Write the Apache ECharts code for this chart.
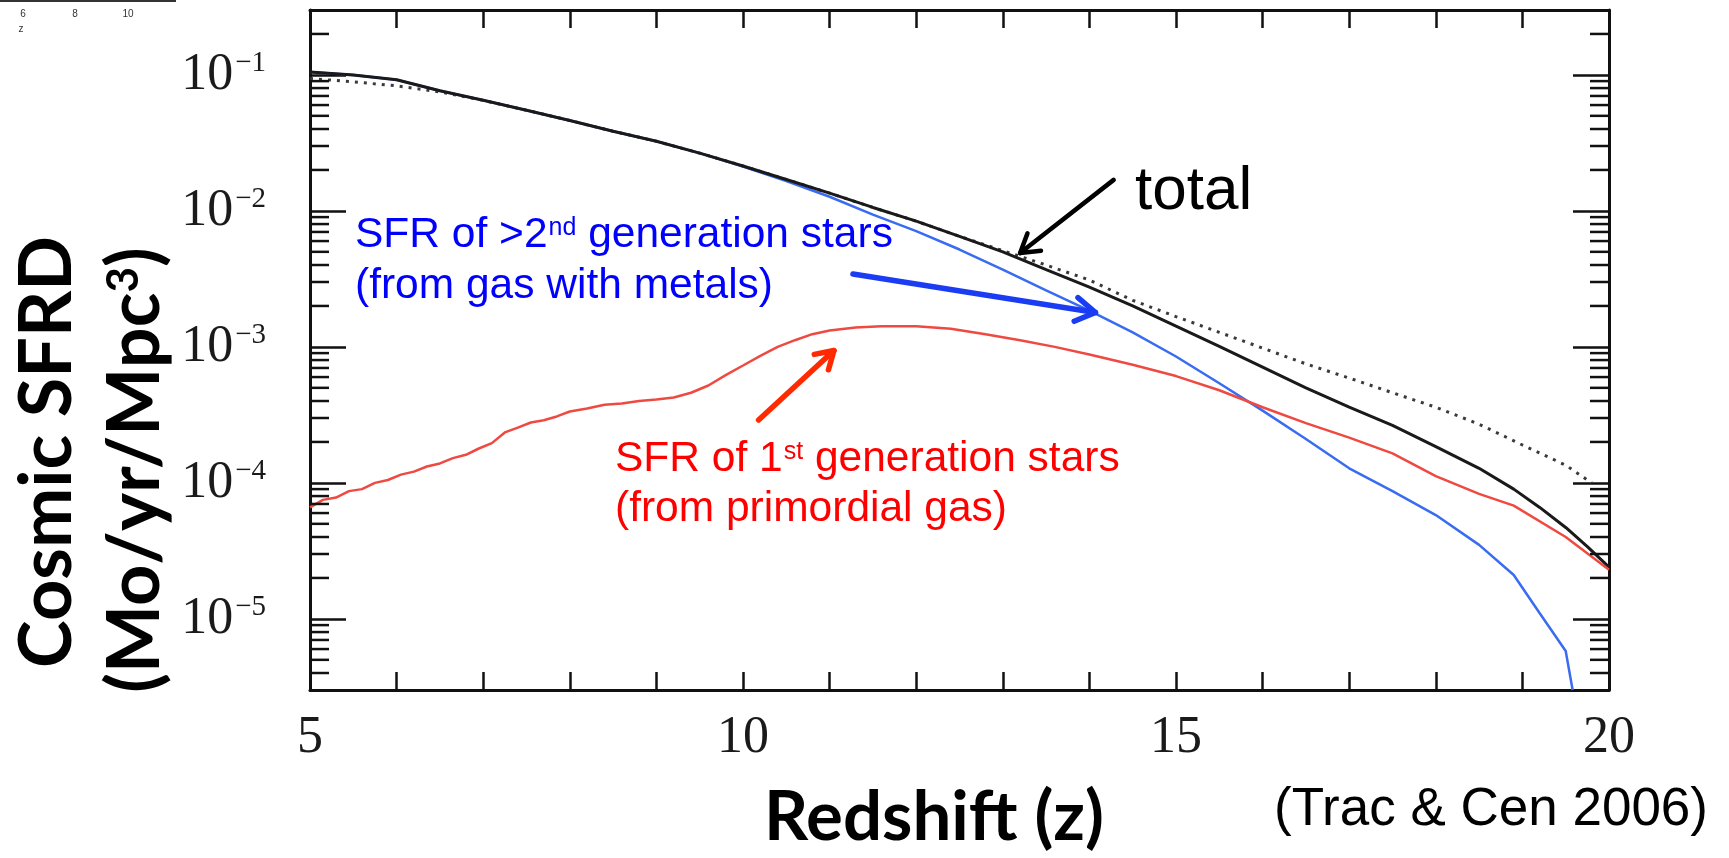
<!DOCTYPE html>
<html>
<head>
<meta charset="utf-8">
<script src="https://cdn.jsdelivr.net/npm/echarts@6/dist/echarts.min.js"></script>
<style>
  html, body { margin: 0; padding: 0; background: #ffffff; }
  #chart { width: 1729px; height: 858px; }
</style>
</head>
<body>
<div id="chart"></div>
<script>
// Cosmic star formation rate density vs redshift (Trac & Cen 2006)

// total SFRD (solid black)
const zTotal   = [5.0, 5.5, 6.0, 6.5, 7.0, 7.5, 8.0, 8.5, 9.0, 9.5, 10.0, 10.5, 11.0, 11.5, 12.0, 12.5, 13.0, 13.5, 14.0, 14.5, 15.0, 15.5, 16.0, 16.5, 17.0, 17.5, 18.0, 18.5, 18.9, 19.2, 19.5, 19.75, 20.0];
const sfrTotal = [0.105, 0.100, 0.092, 0.0765, 0.065, 0.055, 0.0462, 0.0385, 0.0325, 0.0266, 0.0214, 0.0170, 0.0135, 0.0106, 0.0084, 0.0065, 0.0050, 0.0037, 0.00275, 0.0020, 0.00142, 0.00101, 0.00071, 0.00050, 0.00036, 0.000265, 0.000185, 0.000128, 0.000090, 0.000066, 0.000047, 0.000034, 0.000024];

// dotted reference curve
const zFit   = [5.0, 5.5, 6.0, 6.5, 7.0, 7.5, 8.0, 8.5, 9.0, 9.5, 10.0, 10.5, 11.0, 11.5, 12.0, 12.5, 13.0, 13.5, 14.0, 14.5, 15.0, 15.5, 16.0, 16.5, 17.0, 17.5, 18.0, 18.5, 19.0, 19.5, 19.8];
const sfrFit = [0.094, 0.089, 0.083, 0.075, 0.065, 0.055, 0.0462, 0.0385, 0.0325, 0.0266, 0.0214, 0.0170, 0.0135, 0.0106, 0.0084, 0.0065, 0.0051, 0.0040, 0.0031, 0.0022, 0.00167, 0.00128, 0.00098, 0.00075, 0.00059, 0.00046, 0.00036, 0.00027, 0.00019, 0.000135, 0.000100];

// stars formed from metal-enriched gas (blue)
const zPop2   = [5.0, 5.5, 6.0, 6.5, 7.0, 7.5, 8.0, 8.5, 9.0, 9.5, 10.0, 10.5, 11.0, 11.5, 12.0, 12.5, 13.0, 13.5, 14.0, 14.5, 15.0, 15.5, 16.0, 16.5, 17.0, 17.5, 18.0, 18.5, 18.9, 19.2, 19.5, 19.58];
const sfrPop2 = [0.105, 0.100, 0.092, 0.0765, 0.065, 0.055, 0.0462, 0.0385, 0.0325, 0.0266, 0.0212, 0.0166, 0.0127, 0.0094, 0.0071, 0.0052, 0.0037, 0.0026, 0.00185, 0.00128, 0.00085, 0.00054, 0.00034, 0.00021, 0.000128, 0.000087, 0.000058, 0.000035, 0.000021, 0.000011, 0.0000058, 0.000003];

// stars formed from primordial gas (red)
const zPop3   = [5.0, 5.15, 5.3, 5.45, 5.6, 5.75, 5.9, 6.05, 6.2, 6.35, 6.5, 6.65, 6.8, 6.95, 7.1, 7.25, 7.4, 7.55, 7.7, 7.85, 8.0, 8.2, 8.4, 8.6, 8.8, 9.0, 9.2, 9.4, 9.6, 9.8, 10.0, 10.2, 10.4, 10.6, 10.8, 11.0, 11.3, 11.6, 12.0, 12.4, 12.8, 13.2, 13.6, 14.0, 14.5, 15.0, 15.5, 16.0, 16.5, 17.0, 17.5, 18.0, 18.5, 18.9, 19.5, 20.0];
const sfrPop3 = [6.6e-5, 7.5e-5, 7.8e-5, 8.7e-5, 9.0e-5, 1.0e-4, 1.05e-4, 1.15e-4, 1.21e-4, 1.32e-4, 1.39e-4, 1.52e-4, 1.61e-4, 1.79e-4, 1.96e-4, 2.35e-4, 2.55e-4, 2.78e-4, 2.89e-4, 3.08e-4, 3.35e-4, 3.52e-4, 3.76e-4, 3.84e-4, 4.0e-4, 4.1e-4, 4.25e-4, 4.6e-4, 5.2e-4, 6.2e-4, 7.3e-4, 8.6e-4, 1.00e-3, 1.12e-3, 1.24e-3, 1.32e-3, 1.39e-3, 1.42e-3, 1.42e-3, 1.36e-3, 1.24e-3, 1.12e-3, 1.00e-3, 8.8e-4, 7.4e-4, 6.1e-4, 4.8e-4, 3.6e-4, 2.75e-4, 2.15e-4, 1.65e-4, 1.12e-4, 8.3e-5, 6.8e-5, 4.0e-5, 2.3e-5];

// axis ranges and tick labels
const zRange = [5, 20];
const sfrRange = [3e-6, 0.3];
const zLabels = [5, 10, 15, 20];

// callout arrows, in (z, SFRD) coordinates
const arrowTotal = { tail: [14.28, 0.0169], tip: [13.2, 0.0049] };
const arrowPop2  = { tail: [11.27, 0.00344], tip: [14.07, 0.00179] };
const arrowPop3  = { tail: [10.18, 0.00029], tip: [11.05, 0.00094] };

const pairs = (xs, ys) => xs.map((x, i) => [x, ys[i]]);

// logarithmic minor ticks (2..9 x 10^n) inside the range
const minorTicks = [];
for (let n = -6; n <= -1; n++) {
  for (let k = 2; k <= 9; k++) {
    const v = Number((k * Math.pow(10, n)).toPrecision(3));
    if (v > sfrRange[0] && v < sfrRange[1]) minorTicks.push([zRange[0], v]);
  }
}

const serif = 'Liberation Serif, DejaVu Serif, serif';
const sans = 'Liberation Sans, Arial, sans-serif';
const bold = 'Lato, Open Sans, sans-serif';
const frame = '#111111';

const chart = echarts.init(document.getElementById('chart'), null, { renderer: 'canvas' });

const xBase = {
  type: 'value', min: zRange[0], max: zRange[1], interval: 1,
  axisLine: { show: true, onZero: false, lineStyle: { color: frame, width: 3 } },
  axisTick: { show: true, inside: true, length: 18, lineStyle: { color: frame, width: 2.5 } },
  splitLine: { show: false }
};
const yBase = {
  type: 'log', logBase: 10, min: sfrRange[0], max: sfrRange[1],
  axisLine: { show: true, onZero: false, lineStyle: { color: frame, width: 3 } },
  axisTick: { show: true, inside: true, length: 36, lineStyle: { color: frame, width: 2.5 } },
  splitLine: { show: false }
};

chart.setOption({
  animation: false,
  backgroundColor: '#ffffff',
  grid: { left: 310, right: 120, top: 10, bottom: 168, outerBoundsMode: 'none', containLabel: false },
  xAxis: [
    Object.assign({}, xBase, {
      position: 'bottom',
      axisLabel: {
        show: true, margin: 22, color: '#1a1a1a', fontFamily: serif, fontSize: 52,
        formatter: v => (zLabels.indexOf(v) >= 0 ? String(v) : '')
      }
    }),
    Object.assign({}, xBase, { position: 'top', axisLabel: { show: false } })
  ],
  yAxis: [
    Object.assign({}, yBase, {
      position: 'left',
      axisLabel: {
        show: true, margin: 44, showMinLabel: false, showMaxLabel: false,
        formatter: v => {
          const e = Math.log10(v);
          const r = Math.round(e);
          if (Math.abs(e - r) > 1e-6) return '';
          return '{b|10}{s|\u2212' + (-r) + '}';
        },
        rich: {
          b: { fontFamily: serif, fontSize: 52, color: '#1a1a1a', lineHeight: 52 },
          s: { fontFamily: serif, fontSize: 29, color: '#1a1a1a', verticalAlign: 'top', lineHeight: 30, padding: [0, 0, 0, 2] }
        }
      }
    }),
    Object.assign({}, yBase, { position: 'right', axisLabel: { show: false } })
  ],
  series: [
    {
      name: 'minor ticks', type: 'custom', silent: true, clip: false,
      xAxisIndex: 0, yAxisIndex: 0,
      encode: { x: 0, y: 1 },
      data: minorTicks,
      renderItem: (params, api) => {
        const v = api.value(1);
        const l = api.coord([zRange[0], v]);
        const r = api.coord([zRange[1], v]);
        const st = { stroke: frame, lineWidth: 2.5 };
        return {
          type: 'group',
          children: [
            { type: 'line', shape: { x1: l[0], y1: l[1], x2: l[0] + 19, y2: l[1] }, style: st },
            { type: 'line', shape: { x1: r[0] - 19, y1: r[1], x2: r[0], y2: r[1] }, style: st }
          ]
        };
      },
      z: 5
    },
    {
      name: 'fit', type: 'line', data: pairs(zFit, sfrFit), showSymbol: false, smooth: false,
      lineStyle: { color: '#3a3a3a', width: 3, type: [3, 6] }, z: 2
    },
    {
      name: 'Pop II', type: 'line', data: pairs(zPop2, sfrPop2), showSymbol: false, smooth: false,
      lineStyle: { color: '#3a6cf2', width: 2.5 }, z: 3
    },
    {
      name: 'total', type: 'line', data: pairs(zTotal, sfrTotal), showSymbol: false, smooth: false,
      lineStyle: { color: '#1a1a1a', width: 3 }, z: 4
    },
    {
      name: 'Pop III', type: 'line', data: pairs(zPop3, sfrPop3), showSymbol: false, smooth: false,
      lineStyle: { color: '#ee4a42', width: 2.5 }, z: 4
    }
  ]
});

function arrow(spec, color, width, head) {
  const a = chart.convertToPixel({ gridIndex: 0 }, spec.tail);
  const b = chart.convertToPixel({ gridIndex: 0 }, spec.tip);
  const ang = Math.atan2(b[1] - a[1], b[0] - a[0]);
  const h1 = [b[0] - head * Math.cos(ang - 0.55), b[1] - head * Math.sin(ang - 0.55)];
  const h2 = [b[0] - head * Math.cos(ang + 0.55), b[1] - head * Math.sin(ang + 0.55)];
  const st = { stroke: color, lineWidth: width, lineCap: 'round', lineJoin: 'round', fill: null };
  return [
    { type: 'polyline', shape: { points: [a, b] }, style: st, z: 100 },
    { type: 'polyline', shape: { points: [h1, b, h2] }, style: st, z: 100 }
  ];
}

const texts = [
  // y-axis title
  { type: 'text', x: 48, y: 452, rotation: Math.PI / 2,
    style: { text: 'Cosmic SFRD', fontFamily: bold, fontWeight: 'bold', fontSize: 72, fill: '#000', align: 'center', verticalAlign: 'middle' } },
  { type: 'text', x: 136, y: 470, rotation: Math.PI / 2,
    style: { text: '(Mo/yr/Mpc{sup|3})', fontFamily: bold, fontWeight: 'bold', fontSize: 72, fill: '#000', align: 'center', verticalAlign: 'middle',
      rich: { sup: { fontFamily: bold, fontWeight: 'bold', fontSize: 44, fill: '#000', verticalAlign: 'top', padding: [2, 0, 0, 0] } } } },
  // x-axis title
  { type: 'text', x: 934, y: 818,
    style: { text: 'Redshift (z)', fontFamily: bold, fontWeight: 'bold', fontSize: 69, fill: '#000', align: 'center', verticalAlign: 'middle' } },
  // citation
  { type: 'text', x: 1274, y: 810,
    style: { text: '(Trac & Cen 2006)', fontFamily: sans, fontSize: 53, fill: '#000', align: 'left', verticalAlign: 'middle' } },
  // curve callouts
  { type: 'text', x: 1135, y: 192, z: 100,
    style: { text: 'total', fontFamily: sans, fontSize: 62, fill: '#000', align: 'left', verticalAlign: 'middle' } },
  { type: 'text', x: 355, y: 235, z: 100,
    style: { text: 'SFR of >2{sup|nd} generation stars', fontFamily: sans, fontSize: 42.5, fill: '#0000ff', align: 'left', verticalAlign: 'middle',
      rich: { sup: { fontFamily: sans, fontSize: 25, fill: '#0000ff', verticalAlign: 'top', padding: [2, 0, 0, 1] } } } },
  { type: 'text', x: 355, y: 286, z: 100,
    style: { text: '(from gas with metals)', fontFamily: sans, fontSize: 42.5, fill: '#0000ff', align: 'left', verticalAlign: 'middle' } },
  { type: 'text', x: 615, y: 459, z: 100,
    style: { text: 'SFR of 1{sup|st} generation stars', fontFamily: sans, fontSize: 42.5, fill: '#ff0000', align: 'left', verticalAlign: 'middle',
      rich: { sup: { fontFamily: sans, fontSize: 25, fill: '#ff0000', verticalAlign: 'top', padding: [2, 0, 0, 1] } } } },
  { type: 'text', x: 615, y: 509, z: 100,
    style: { text: '(from primordial gas)', fontFamily: sans, fontSize: 42.5, fill: '#ff0000', align: 'left', verticalAlign: 'middle' } },
  // axis strip of a neighbouring panel at the top-left edge
  { type: 'line', shape: { x1: 0, y1: 1, x2: 176, y2: 1 }, style: { stroke: '#333', lineWidth: 2 } },
  { type: 'text', x: 23, y: 14, style: { text: '6', fontFamily: sans, fontSize: 10, fill: '#333', align: 'center', verticalAlign: 'middle' } },
  { type: 'text', x: 75, y: 14, style: { text: '8', fontFamily: sans, fontSize: 10, fill: '#333', align: 'center', verticalAlign: 'middle' } },
  { type: 'text', x: 128, y: 14, style: { text: '10', fontFamily: sans, fontSize: 10, fill: '#333', align: 'center', verticalAlign: 'middle' } },
  { type: 'text', x: 21, y: 29, style: { text: 'z', fontFamily: sans, fontSize: 10, fill: '#333', align: 'center', verticalAlign: 'middle' } }
];

chart.setOption({
  graphic: texts
    .concat(arrow(arrowTotal, '#000000', 4.5, 21))
    .concat(arrow(arrowPop2, '#1a3cf2', 5.5, 23))
    .concat(arrow(arrowPop3, '#ff2a00', 5.5, 20))
});
</script>
</body>
</html>
